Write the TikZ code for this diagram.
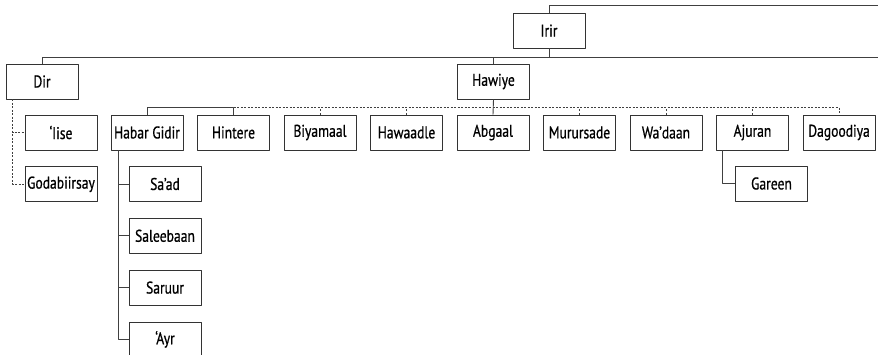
\documentclass[tikz,border=0pt]{standalone}
\usepackage{fontspec}
\setmainfont{PT Sans}[FakeStretch=0.8, FakeBold=0.7]
\usetikzlibrary{positioning}
\begin{document}
\begin{tikzpicture}[x=1pt,y=-1pt, line join=round, font=\fontsize{17}{19}\selectfont]
	\tikzset{clan/.style={draw=black!80, line width=0.8pt, minimum width=72pt, minimum height=35pt, inner sep=1pt},
		link/.style={draw=black!75, line width=0.9pt},
		weak/.style={link, dash pattern=on 2pt off 1.5pt}}
	\useasboundingbox (0,0) rectangle (878,354);
	% top level
	\node[clan] (irir) at (549,30.5) {Irir};
	\node[clan] (dir) at (42,81.5) {Dir};
	\node[clan] (hawiye) at (493.5,81.5) {Hawiye};
	\coordinate (topend) at (878,5);
	\coordinate (midend) at (878,57);
	% Dir branch
	\node[clan] (iise) at (61,132.5) {‘Iise};
	\node[clan, below=16pt of iise] (godabiirsay) {Godabiirsay};
	% Hawiye branch
	\foreach \name/\txt [count=\i] in {habar/Habar Gidir, hintere/Hintere, biyamaal/Biyamaal, hawaadle/Hawaadle, abgaal/Abgaal, murursade/Murursade, wadaan/Wa’daan, ajuran/Ajuran, dagoodiya/Dagoodiya}
		\node[clan] (\name) at ({147+86.5*(\i-1)},132.5) {\txt};
	\node[clan] (saad) at (165,184) {Sa’ad};
	\node[clan, below=16pt of saad] (saleebaan) {Saleebaan};
	\node[clan, below=16pt of saleebaan] (saruur) {Saruur};
	\node[clan, below=16pt of saruur] (ayr) {‘Ayr};
	\node[clan] (gareen) at (771.5,183.5) {Gareen};
	% connectors
	\draw[link] (irir.north) |- (topend);
	\draw[link] (dir.north) |- (midend);
	\draw[link] (irir.south) -- (irir.south |- midend);
	\draw[link] (hawiye.north) -- (hawiye.north |- midend);
	\draw[weak] ([xshift=7pt]dir.south west) |- (iise.west);
	\draw[weak] ([xshift=7pt]dir.south west) |- (godabiirsay.west);
	\draw[link] (habar.north) -- ++(0,-7) -| (hintere.north);
	\draw[weak] (hintere.north) ++(0,-7) -| (dagoodiya.north);
	\foreach \n in {hintere,biyamaal,hawaadle,murursade,wadaan,ajuran}
		\draw[weak] (\n.north) -- ++(0,-7);
	\draw[link] (hawiye.south) -- (abgaal.north);
	\draw[link] ([xshift=8pt]habar.south west) |- (ayr.west);
	\foreach \n in {saad,saleebaan,saruur}
		\draw[link] (\n.west) -- ++(-10,0);
	\draw[link] ([xshift=6pt]ajuran.south west) |- (gareen.west);
\end{tikzpicture}
\end{document}
